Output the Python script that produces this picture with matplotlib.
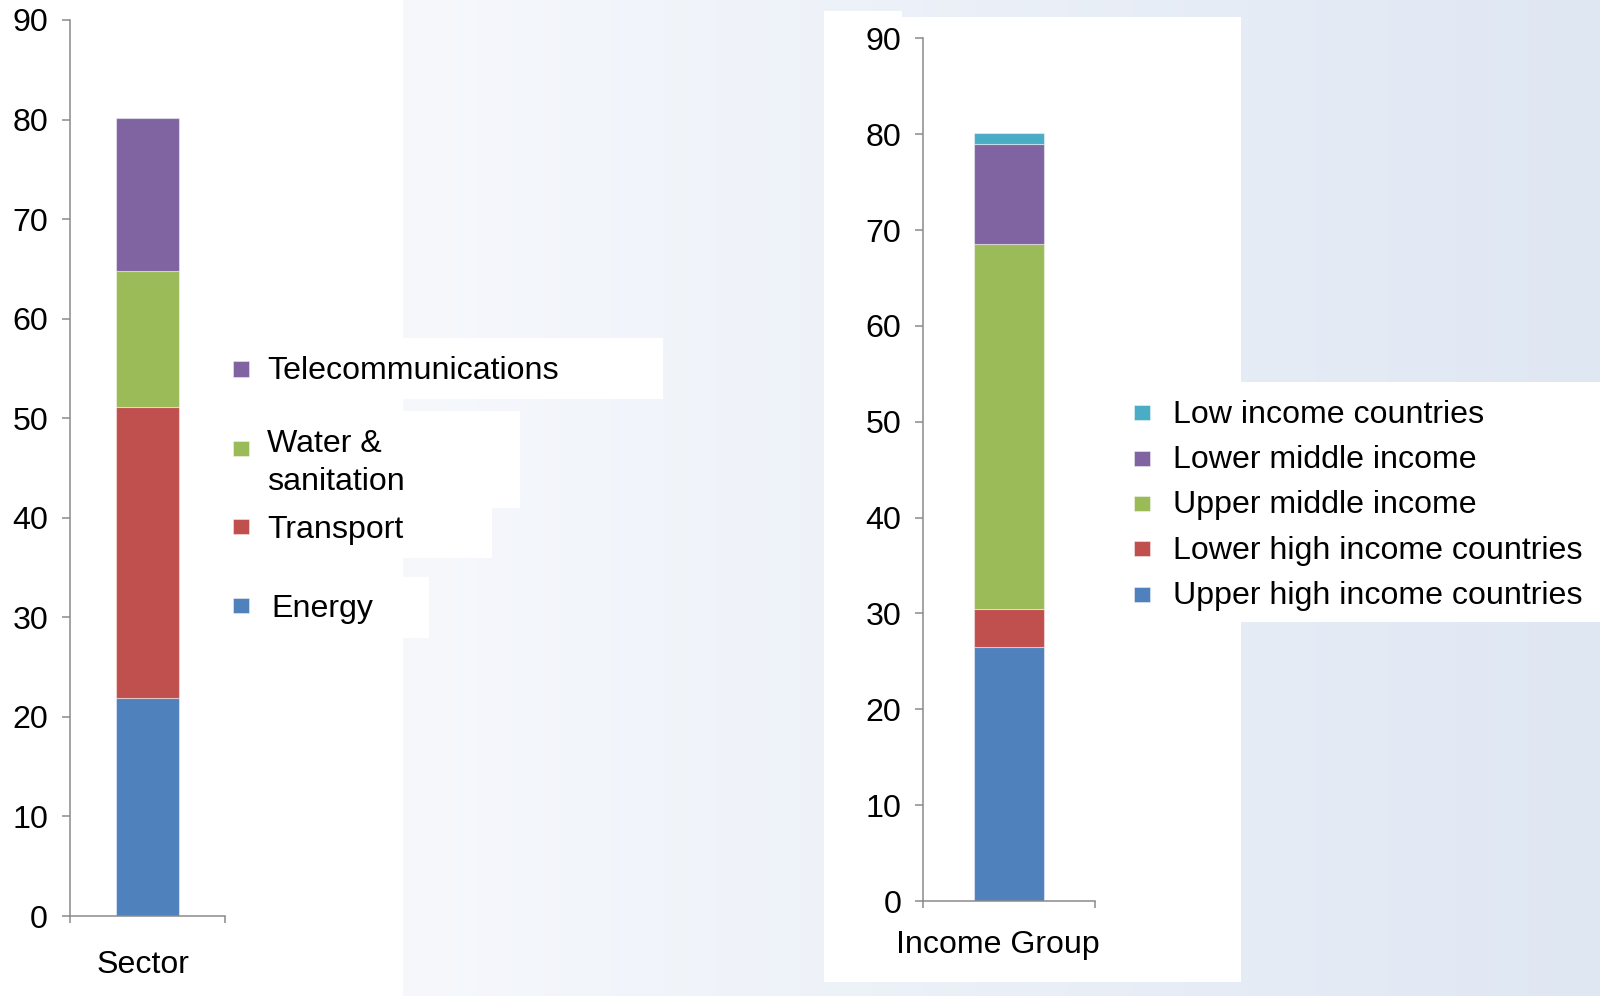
import numpy as np
import matplotlib
matplotlib.use("Agg")
import matplotlib.pyplot as plt
from matplotlib.patches import Rectangle
from matplotlib.transforms import blended_transform_factory

# ---------------- data ----------------
sector_category = "Sector"
sector_series = ["Energy", "Transport", "Water & sanitation", "Telecommunications"]
sector_values = [21.9, 29.2, 13.7, 15.4]
sector_colors = ["#4F81BD", "#C0504D", "#9BBB59", "#8064A2"]

income_category = "Income Group"
income_series = ["Upper high income countries", "Lower high income countries",
                 "Upper middle income", "Lower middle income", "Low income countries"]
income_values = [26.5, 4.0, 38.0, 10.5, 1.1]
income_colors = ["#4F81BD", "#C0504D", "#9BBB59", "#8064A2", "#4BACC6"]

y_ticks = [0, 10, 20, 30, 40, 50, 60, 70, 80, 90]

# ---------------- figure ----------------
W, H = 1600, 996
FS = 23.1
plt.rcParams["font.family"] = ["Liberation Sans", "DejaVu Sans"]
fig = plt.figure(figsize=(W / 100, H / 100), dpi=100)

def fx(x):
    return x / W

def fy(y):
    return 1 - y / H

# background gradient
bg = fig.add_axes([0, 0, 1, 1], zorder=-5)
bg.set_axis_off()
xs = np.linspace(0, W, 400)
t = np.clip((xs - 403) / (W - 403), 0, 1)
c0 = np.array([246, 248, 252]) / 255
c1 = np.array([223, 231, 243]) / 255
grad = (c0[None, :] * (1 - t[:, None]) + c1[None, :] * t[:, None])[None, :, :]
bg.imshow(grad, aspect="auto", extent=[0, 1, 0, 1])
bg.set_xlim(0, 1)
bg.set_ylim(0, 1)

def white_box(x0, y0, x1, y1):
    fig.add_artist(Rectangle((fx(x0), fy(y1)), fx(x1) - fx(x0), fy(y0) - fy(y1),
                             transform=fig.transFigure, facecolor="white",
                             edgecolor="none", zorder=-1))

# white panels
white_box(0, 0, 403, H)
white_box(403, 338, 663, 399)
white_box(403, 411, 520, 508)
white_box(403, 508, 492, 558)
white_box(403, 577, 429, 638)
white_box(824, 17, 1241, 982)
white_box(824, 11, 902, 17)
white_box(1241, 382, W, 622)

AX_COLOR = "#8a8a8a"

def style_axis(ax):
    ax.set_facecolor("none")
    for s in ["top", "right"]:
        ax.spines[s].set_visible(False)
    for s in ["left", "bottom"]:
        ax.spines[s].set_color(AX_COLOR)
        ax.spines[s].set_linewidth(1.1)
    ax.set_ylim(0, 90)
    ax.set_xlim(-0.5, 0.5)
    ax.set_yticks(y_ticks)
    ax.set_yticklabels([str(v) for v in y_ticks])
    ax.tick_params(axis="y", direction="out", length=5.8, width=1.1, color=AX_COLOR,
                   labelsize=FS, pad=10, labelcolor="black")
    ax.set_xticks([-0.5, 0.5])
    ax.set_xticklabels(["", ""])
    ax.tick_params(axis="x", direction="out", length=5.2, width=1.1, color=AX_COLOR)
    for sp in ax.spines.values():
        sp.set_clip_on(False)

def stacked(ax, values, colors):
    bottom = 0.0
    for v, c in zip(values, colors):
        ax.bar(0, v, width=0.41, bottom=bottom, color=c,
               edgecolor=(1, 1, 1, 0.45), linewidth=0.8, zorder=2)
        bottom += v

# left chart
axL = fig.add_axes([fx(70), fy(916), fx(155), 896 / H])
style_axis(axL)
stacked(axL, sector_values, sector_colors)
axL.text(-0.032, -0.0633, sector_category, fontsize=FS, ha="center", va="baseline",
         transform=blended_transform_factory(axL.transData, axL.transAxes))

# right chart
axR = fig.add_axes([fx(923.3), fy(901), fx(171.7), 862.7 / H])
style_axis(axR)
stacked(axR, income_values, income_colors)
axR.text(-0.068, -0.0603, income_category, fontsize=FS, ha="center", va="baseline",
         transform=blended_transform_factory(axR.transData, axR.transAxes))

# legends (drawn as swatches + text)
def swatch(x0, y0, size_w, size_h, color):
    fig.add_artist(Rectangle((fx(x0), fy(y0 + size_h)), size_w / W, size_h / H,
                             transform=fig.transFigure, facecolor=color,
                             edgecolor=(1, 1, 1, 0.5), linewidth=0.6, zorder=3))

def label(x, y_base, s):
    fig.text(fx(x), fy(y_base), s, fontsize=FS, ha="left", va="baseline", zorder=3)

# left legend: Telecom, Water, Transport, Energy (top to bottom)
left_entries = [
    (3, 361, ["Telecommunications"], [379.3], 267),
    (2, 441, ["Water &", "sanitation"], [451.7, 490.0], 267),
    (1, 518.5, ["Transport"], [538.3], 267),
    (0, 597.5, ["Energy"], [616.7], 271),
]
for idx, ytop, lines, bases, tx in left_entries:
    swatch(232.7, ytop, 16, 15.5, sector_colors[idx])
    for ln, b in zip(lines, bases):
        label(tx, b, ln)

# right legend: reverse order (top: Low income)
base0 = 422.7
step = 45.4
for k, idx in enumerate(range(len(income_series) - 1, -1, -1)):
    b = base0 + k * step
    swatch(1134, b - 17.5, 16, 15, income_colors[idx])
    label(1173, b, income_series[idx])

fig.savefig("out.png", dpi=100)
